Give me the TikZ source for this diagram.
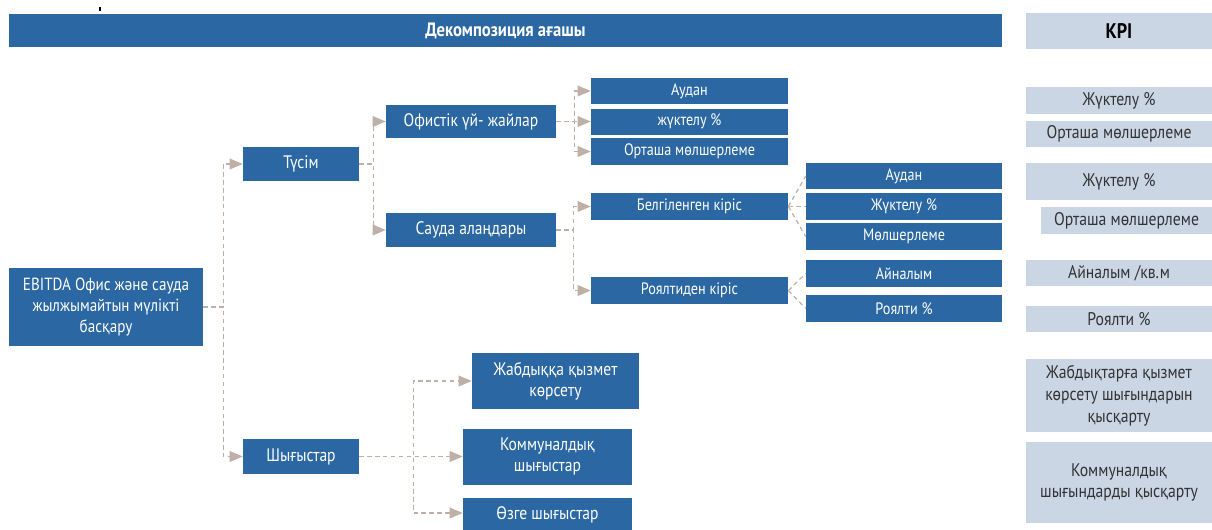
\documentclass[tikz,border=0pt]{standalone}
\usepackage{fontspec}
\setmainfont{PT Sans}[FakeStretch=0.86]
\usetikzlibrary{arrows}
\definecolor{treeblue}{RGB}{43,104,163}
\definecolor{kpigrey}{RGB}{203,214,229}
\definecolor{linktan}{RGB}{190,176,166}

\begin{document}
\begin{tikzpicture}[>=triangle 45, x=0.02cm, y=-0.02cm]
\tikzset{blk/.style={fill=treeblue,text=white,inner sep=1pt,align=center,font=\fontsize{10.3}{12}\selectfont}}
\tikzset{leaf/.style={blk,font=\fontsize{9.4}{11}\selectfont}}
\tikzset{kpi/.style={fill=kpigrey,text=black!80,inner sep=1pt,align=center,font=\fontsize{10.4}{12.4}\selectfont}}
\tikzset{conn/.style={->,linktan,line width=0.7pt,dash pattern=on 2.5pt off 2pt}}
\tikzset{twig/.style={linktan,line width=0.7pt,dash pattern=on 2.5pt off 2pt}}

\useasboundingbox (0,0) rectangle (1212,529);

% header row
\draw[line width=1pt] (100,7) -- (100,11);
\node[blk,minimum width=19.86cm,minimum height=0.66cm,font=\bfseries\fontsize{11}{12}\selectfont] (head) at (505.5,30.5) {Декомпозиция ағашы};
\node[kpi,minimum width=3.72cm,minimum height=0.72cm,font=\bfseries\fontsize{12}{13}\selectfont,text=black] (kpi) at (1119,31) {KPI};

% tree - levels from left to right
\node[blk,minimum width=3.88cm,minimum height=1.56cm,font=\fontsize{10}{12}\selectfont] (root) at (106,307) {EBITDA Офис және сауда\\жылжымайтын мүлікті\\басқару};

\node[blk,minimum width=2.32cm,minimum height=0.68cm] (tusim) at (301,164) {Түсім};
\node[blk,minimum width=2.32cm,minimum height=0.70cm] (shygys) at (301,456.5) {Шығыстар};

\node[blk,minimum width=3.4cm,minimum height=0.66cm] (ofis) at (471,121.5) {Офистік үй- жайлар};
\node[blk,minimum width=3.4cm,minimum height=0.68cm] (sauda) at (471,230) {Сауда алаңдары};

\node[leaf,minimum width=3.94cm,minimum height=0.52cm] (a1) at (689.5,91) {Аудан};
\node[leaf,minimum width=3.94cm,minimum height=0.52cm] (a2) at (689.5,121.5) {жүктелу \%};
\node[leaf,minimum width=3.94cm,minimum height=0.54cm] (a3) at (689.5,151.5) {Орташа мөлшерлеме};

\node[leaf,minimum width=3.94cm,minimum height=0.54cm] (belg) at (689.5,206.5) {Белгіленген кіріс};
\node[leaf,minimum width=3.94cm,minimum height=0.54cm] (roy) at (689.5,290.5) {Роялтиден кіріс};

\node[leaf,minimum width=3.92cm,minimum height=0.52cm] (b1) at (904,176) {Аудан};
\node[leaf,minimum width=3.92cm,minimum height=0.54cm] (b2) at (904,206.5) {Жүктелу \%};
\node[leaf,minimum width=3.92cm,minimum height=0.54cm] (b3) at (904,236.5) {Мөлшерлеме};
\node[leaf,minimum width=3.92cm,minimum height=0.54cm] (b4) at (904,273.5) {Айналым};
\node[leaf,minimum width=3.92cm,minimum height=0.54cm] (b5) at (904,308.5) {Роялти \%};

\node[blk,minimum width=3.34cm,minimum height=1.12cm] (e1) at (555.5,381) {Жабдыққа қызмет\\көрсету};
\node[blk,minimum width=3.38cm,minimum height=1.12cm] (e2) at (547.5,456.5) {Коммуналдық\\шығыстар};
\node[blk,minimum width=3.38cm,minimum height=0.70cm] (e3) at (547.5,515) {Өзге шығыстар};

% KPI column
\node[kpi,minimum width=3.72cm,minimum height=0.54cm] (k1) at (1119,100.5) {Жүктелу \%};
\node[kpi,minimum width=3.72cm,minimum height=0.52cm] (k2) at (1119,134) {Орташа мөлшерлеме};
\node[kpi,minimum width=3.72cm,minimum height=0.74cm] (k3) at (1119,181.5) {Жүктелу \%};
\node[kpi,minimum width=3.42cm,minimum height=0.54cm] (k4) at (1126.5,220.5) {Орташа мөлшерлеме};
\node[kpi,minimum width=3.72cm,minimum height=0.52cm] (k5) at (1119,273) {Айналым /кв.м};
\node[kpi,minimum width=3.72cm,minimum height=0.52cm] (k6) at (1119,319) {Роялти \%};
\node[kpi,minimum width=3.72cm,minimum height=1.46cm] (k7) at (1119,395.5) {Жабдықтарға қызмет\\көрсету шығындарын\\қысқарту};
\node[kpi,minimum width=3.72cm,minimum height=1.62cm] (k8) at (1119,482.5) {Коммуналдық\\шығындарды қысқарту};

% connectors
\draw[conn] (root.east) -- ++(20,0) |- (tusim.west);
\draw[conn] (root.east) -- ++(20,0) |- (shygys.west);

\draw[conn] (tusim.east) -- ++(14,0) |- (ofis.west);
\draw[conn] (tusim.east) -- ++(14,0) |- (sauda.west);

\draw[conn] (ofis.east) -- ++(18,0) |- (a1.west);
\draw[conn] (ofis.east) -- (a2.west);
\draw[conn] (ofis.east) -- ++(18,0) |- (a3.west);

\draw[conn] (sauda.east) -- ++(17,0) |- (belg.west);
\draw[conn] (sauda.east) -- ++(17,0) |- (roy.west);

\draw[twig] (belg.east) -- (b1.west);
\draw[twig] (belg.east) -- (b2.west);
\draw[twig] (belg.east) -- (b3.west);
\draw[twig] (roy.east) -- (b4.west);
\draw[twig] (roy.east) -- (b5.west);

\draw[conn] (shygys.east) -- ++(54,0) |- (e1.west);
\draw[conn] (shygys.east) -- (e2.west);
\draw[conn] (shygys.east) -- ++(54,0) |- ([yshift=0.04cm]e3.west);

\end{tikzpicture}
\end{document}
